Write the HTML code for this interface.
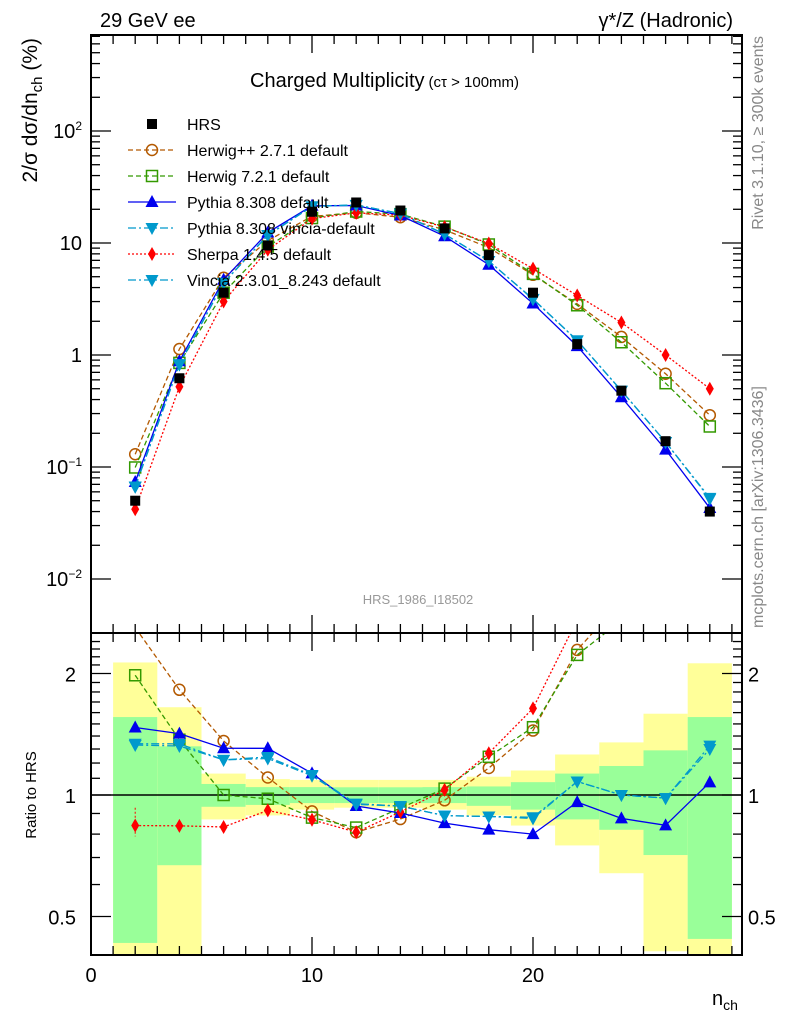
<!DOCTYPE html>
<html><head><meta charset="utf-8"><style>
body{margin:0;background:#fff;}
svg text{font-family:"Liberation Sans",sans-serif;}
</style></head><body>
<svg id="chart" width="786" height="1024" viewBox="0 0 786 1024" xmlns="http://www.w3.org/2000/svg">
<rect width="786" height="1024" fill="#fff"/>
<g id="bands"></g><g id="grid"></g><g id="series"></g><g id="axes"></g>
<text x="100" y="27" font-size="20">29 GeV ee</text>
<text x="733" y="27" font-size="20" text-anchor="end">γ*/Z (Hadronic)</text>
<text x="250" y="87" font-size="20">Charged Multiplicity<tspan font-size="15" dx="4">(cτ &gt; 100mm)</tspan></text>
<text x="418" y="604" font-size="13" fill="#999" text-anchor="middle">HRS_1986_I18502</text>
<text transform="translate(37,38) rotate(-90)" font-size="21" text-anchor="end">2/σ dσ/dn<tspan font-size="15" dy="5">ch</tspan><tspan dy="-5"> (%)</tspan></text>
<text transform="translate(36,795) rotate(-90)" font-size="15" text-anchor="middle">Ratio to HRS</text>
<text x="712" y="1005" font-size="20">n<tspan font-size="14" dy="5">ch</tspan></text>
<text transform="translate(763,36) rotate(-90)" font-size="16" fill="#888" text-anchor="end">Rivet 3.1.10, ≥ 300k events</text>
<text transform="translate(763,628) rotate(-90)" font-size="16" fill="#888">mcplots.cern.ch [arXiv:1306.3436]</text>
<g id="legend"></g>
</svg>
<script>
const xs=[2,4,6,8,10,12,14,16,18,20,22,24,26,28];
const hrs=[0.05,0.62,3.6,9.5,19,23,19.5,13.5,7.8,3.6,1.25,0.48,0.17,0.04];
const herwigpp=[0.13,1.13,4.9,10.5,17.3,18.6,17,13.1,9.1,5.2,2.86,1.45,0.68,0.29];
const herwig7=[0.099,0.85,3.6,9.3,16.7,19.1,18.1,14.0,9.7,5.3,2.78,1.3,0.56,0.23];
const pythia=[0.0735,0.88,4.7,12.4,21.5,21.6,17.6,11.5,6.4,2.88,1.2,0.42,0.143,0.043];
const pyvincia=[0.0665,0.82,4.4,11.8,21.3,21.9,18.3,12.0,6.9,3.17,1.35,0.48,0.167,0.052];
const vincia=[0.067,0.83,4.4,11.7,21.2,21.8,18.3,12.0,6.9,3.15,1.35,0.48,0.167,0.053];
const sherpa=[0.042,0.52,3.0,8.7,16.5,18.6,17.7,13.9,9.9,5.9,3.4,1.95,1.0,0.5];
const binLo=[1,3,5,7,9,11,13,15,17,19,21,23,25,27];
const yelHi=[2.13,1.65,1.13,1.095,1.09,1.09,1.09,1.09,1.11,1.15,1.26,1.35,1.59,2.12];
const grnHi=[1.56,1.32,1.065,1.046,1.046,1.045,1.045,1.046,1.05,1.076,1.13,1.18,1.29,1.56];
const grnLo=[0.43,0.67,0.935,0.945,0.955,0.955,0.955,0.955,0.94,0.92,0.87,0.82,0.71,0.44];
const yelLo=[0.3,0.3,0.87,0.89,0.92,0.93,0.93,0.92,0.89,0.84,0.75,0.64,0.41,0.3];
const xTicksMajor=[0,10,20];
const yTickDecades=[-2,-1,0,1,2];
const yTickLabels=["10<tspan font-size='12' dy='-8'>−2</tspan>","10<tspan font-size='12' dy='-8'>−1</tspan>","1","10","10<tspan font-size='12' dy='-8'>2</tspan>"];
const rTicks=[0.5,1,2];
const rLabels=["0.5","1","2"];

const L=91,R=742,T=35,M=633,B=955;
const X=v=>L+v*22.1;
const Y=v=>131-(Math.log10(v)-2)*112;
const RY=v=>795-Math.log2(v)*121.5;
const NS="http://www.w3.org/2000/svg";
function mk(tag,attrs,parent){const e=document.createElementNS(NS,tag);for(const k in attrs)e.setAttribute(k,attrs[k]);parent.appendChild(e);return e;}
const gB=document.getElementById('bands'),gS=document.getElementById('series'),gA=document.getElementById('axes'),gL=document.getElementById('legend');
const clipR=v=>Math.max(M,Math.min(B,v));

binLo.forEach((b,i)=>{
  let y1=clipR(RY(yelHi[i])),y2=clipR(RY(yelLo[i]));
  let r=mk('rect',{x:X(b),y:y1,width:X(b+2)-X(b),height:y2-y1,fill:'#ffff99'},gB);
  
  
  y1=clipR(RY(grnHi[i]));y2=clipR(RY(grnLo[i]));
  r=mk('rect',{x:X(b),y:y1,width:X(b+2)-X(b),height:y2-y1,fill:'#99ff99'},gB);
  
  
});

const defs=mk('defs',{},document.getElementById('chart'));
const c1=mk('clipPath',{id:'cm'},defs);mk('rect',{x:L,y:T,width:R-L,height:M-T},c1);
const c2=mk('clipPath',{id:'cr'},defs);mk('rect',{x:L,y:M,width:R-L,height:B-M},c2);
const gMain=mk('g',{'clip-path':'url(#cm)'},gS),gRat=mk('g',{'clip-path':'url(#cr)'},gS);
mk('line',{x1:L,x2:R,y1:RY(1),y2:RY(1),stroke:'#000','stroke-width':1.5},gRat);

function marker(g,type,x,y,col){
  const s=5;
  if(type==='sq') return mk('rect',{x:x-s,y:y-s,width:2*s,height:2*s,fill:'#000'},g);
  if(type==='osq') return mk('rect',{x:x-5.5,y:y-5.5,width:11,height:11,fill:'none',stroke:col,'stroke-width':1.5},g);
  if(type==='oc') return mk('circle',{cx:x,cy:y,r:5.5,fill:'none',stroke:col,'stroke-width':1.5},g);
  if(type==='tu') return mk('path',{d:`M${x} ${y-7}L${x+6.5} ${y+5}L${x-6.5} ${y+5}Z`,fill:col},g);
  if(type==='td') return mk('path',{d:`M${x} ${y+7}L${x+6.5} ${y-5}L${x-6.5} ${y-5}Z`,fill:col},g);
  if(type==='di') return mk('path',{d:`M${x} ${y-7}L${x+4} ${y}L${x} ${y+7}L${x-4} ${y}Z`,fill:col},g);
}
const series=[
 {n:'herwigpp',d:herwigpp,c:'#b35900',m:'oc',dash:'5,3',label:'Herwig++ 2.7.1 default'},
 {n:'herwig7',d:herwig7,c:'#339900',m:'osq',dash:'5,3',label:'Herwig 7.2.1 default'},
 {n:'pythia',d:pythia,c:'#0000ee',m:'tu',dash:'',label:'Pythia 8.308 default'},
 {n:'pythia-vincia',d:pyvincia,c:'#0099cc',m:'td',dash:'8,3,2,3',label:'Pythia 8.308 vincia-default'},
 {n:'sherpa',d:sherpa,c:'#ff0000',m:'di',dash:'2,2',label:'Sherpa 1.4.5 default'},
 {n:'vincia',d:vincia,c:'#0099cc',m:'td',dash:'8,3,2,3',label:'Vincia 2.3.01_8.243 default'}
];
series.forEach(s=>{
  let p=mk('polyline',{points:xs.map((x,i)=>X(x)+','+Y(s.d[i])).join(' '),fill:'none',stroke:s.c,'stroke-width':1.3,'stroke-dasharray':s.dash},gMain);
  
  
  p=mk('polyline',{points:xs.map((x,i)=>X(x)+','+RY(s.d[i]/hrs[i])).join(' '),fill:'none',stroke:s.c,'stroke-width':1.3,'stroke-dasharray':s.dash},gRat);
  
  
  xs.forEach((x,i)=>{
    let m=marker(gMain,s.m,X(x),Y(s.d[i]),s.c);
    
    
    m=marker(gRat,s.m,X(x),RY(s.d[i]/hrs[i]),s.c);
    
    
  });
});
xs.forEach((x,i)=>{
  const m=marker(gMain,'sq',X(x),Y(hrs[i]),'#000');
  
  
});
mk('line',{x1:X(2),x2:X(2),y1:RY(0.93),y2:RY(0.79),stroke:'#f00','stroke-dasharray':'2,2'},gRat);

const leg=[{n:'HRS',m:'sq',c:'#000',dash:null}].concat(series.map(s=>({n:s.label,m:s.m,c:s.c,dash:s.dash})));
leg.forEach((e,i)=>{
  const y=124+i*26;
  const g=mk('g',{},gL);
  
  
  if(e.dash!==null) mk('line',{x1:128,x2:176,y1:y,y2:y,stroke:e.c,'stroke-width':1.3,'stroke-dasharray':e.dash},g);
  marker(g,e.m,152,y,e.c);
  const t=mk('text',{x:187,y:y+6,'font-size':16},g);t.textContent=e.n;
});

[[T,M],[M,B]].forEach(([a,b])=>mk('rect',{x:L,y:a,width:R-L,height:b-a,fill:'none',stroke:'#000','stroke-width':2},gA));
for(let v=0;v<=29;v++){
  const big=xTicksMajor.includes(v),len=big?18:9,x=X(v);
  [[T,1],[M,-1],[M,1],[B,-1]].forEach(([y,d])=>mk('line',{x1:x,x2:x,y1:y,y2:y+d*len,stroke:'#000','stroke-width':1.3},gA));
}
xTicksMajor.forEach(v=>{const t=mk('text',{x:X(v),y:982,'font-size':20,'text-anchor':'middle'},gA);t.textContent=v;});
yTickDecades.forEach((d,i)=>{
  for(let k=1;k<=9;k++){
    const v=k*Math.pow(10,d),y=Y(v);if(y<T||y>M)continue;
    const len=k===1?20:9;
    mk('line',{x1:L,x2:L+len,y1:y,y2:y,stroke:'#000','stroke-width':1.3},gA);
    mk('line',{x1:R,x2:R-len,y1:y,y2:y,stroke:'#000','stroke-width':1.3},gA);
  }
  const t=mk('text',{x:82,y:Y(Math.pow(10,d))+7,'font-size':20,'text-anchor':'end'},gA);
  t.innerHTML=yTickLabels[i];
  
  
});
for(let v=0.5;v<=2.5;v+=0.1){
  const y=RY(v);if(y<M||y>B)continue;
  const big=rTicks.some(r=>Math.abs(r-v)<1e-6),len=big?20:9;
  mk('line',{x1:L,x2:L+len,y1:y,y2:y,stroke:'#000','stroke-width':1.3},gA);
  mk('line',{x1:R,x2:R-len,y1:y,y2:y,stroke:'#000','stroke-width':1.3},gA);
}
rTicks.forEach((v,i)=>{
  let t=mk('text',{x:76,y:RY(v)+8,'font-size':20,'text-anchor':'end'},gA);t.textContent=rLabels[i];
  
  t=mk('text',{x:748,y:RY(v)+8,'font-size':20},gA);t.textContent=rLabels[i];
  
});
</script>
</body></html>
